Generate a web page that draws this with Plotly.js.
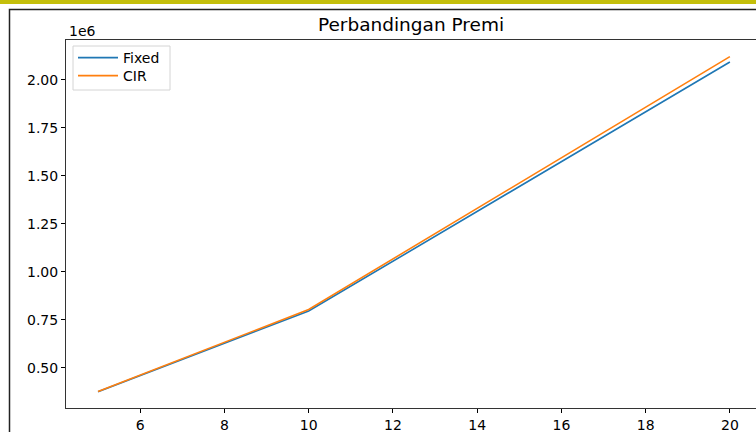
<!DOCTYPE html>
<html>
<head>
<meta charset="utf-8">
<script src="https://cdn.plot.ly/plotly-3.0.1.min.js"></script>
<style>
  html, body { margin: 0; padding: 0; background: #fff; }
  #chart { width: 756px; height: 432px; }
</style>
</head>
<body>
<div id="chart"></div>
<script>
// Policy term in years
const tenor = [5, 10, 20];
// Premium under a fixed interest rate vs. the CIR rate model
const premiFixed = [375000, 795000, 2092000];
const premiCIR = [376000, 803000, 2120000];

// Axis ticks (y shown in units of 1e6)
const xTicks = [6, 8, 10, 12, 14, 16, 18, 20];
const yTickVals = [500000, 750000, 1000000, 1250000, 1500000, 1750000, 2000000];
const yTickText = ['0.50', '0.75', '1.00', '1.25', '1.50', '1.75', '2.00'];

const font = { family: 'DejaVu Sans, sans-serif', size: 14, color: '#000' };

// pixel helpers for paper coordinates (plot area: x 66..756, y 40..408)
const px = v => (v - 66) / 690;
const py = v => (408 - v) / 368;

const traces = [
  { x: tenor, y: premiFixed, name: 'Fixed', type: 'scatter', mode: 'lines',
    legend: 'legend', line: { color: '#1f77b4', width: 1.6 } },
  { x: tenor, y: premiCIR, name: 'CIR', type: 'scatter', mode: 'lines',
    legend: 'legend2', line: { color: '#ff7f0e', width: 1.6 } }
];

// one legend per entry so each row sits at its own height
const legendStyle = top => ({
  x: px(73), y: py(top), xanchor: 'left', yanchor: 'top',
  bgcolor: 'rgba(0,0,0,0)', borderwidth: 0,
  itemwidth: 40, font: font
});

const layout = {
  width: 756, height: 432,
  margin: { l: 66, r: 0, t: 40, b: 24 },
  paper_bgcolor: '#fff', plot_bgcolor: '#fff',
  font: font,
  showlegend: true,
  title: {
    text: 'Perbandingan Premi',
    font: { family: 'DejaVu Sans, sans-serif', size: 18.5, color: '#000' },
    xref: 'paper', x: 0.5, xanchor: 'center',
    yref: 'container', y: 1 - 25 / 432, yanchor: 'middle'
  },
  xaxis: {
    range: [4.24, 20.62],
    tickvals: xTicks,
    ticks: 'outside', ticklen: 4, tickwidth: 1, tickcolor: '#000',
    showgrid: false, zeroline: false,
    showline: true, linecolor: '#333', linewidth: 1, mirror: true,
    tickfont: font
  },
  yaxis: {
    range: [290100, 2206800],
    tickvals: yTickVals, ticktext: yTickText,
    ticks: 'outside', ticklen: 4, tickwidth: 1, tickcolor: '#000',
    showgrid: false, zeroline: false,
    showline: true, linecolor: '#333', linewidth: 1, mirror: true,
    tickfont: font
  },
  legend: legendStyle(42),
  legend2: legendStyle(60),
  annotations: [
    { text: '1e6', xref: 'paper', yref: 'paper', x: 0.002, y: 1.0, yshift: -1,
      xanchor: 'left', yanchor: 'bottom', showarrow: false, font: font }
  ],
  shapes: [
    // legend frame
    { type: 'rect', xref: 'paper', yref: 'paper',
      x0: px(73), x1: px(170), y0: py(90), y1: py(46),
      fillcolor: 'rgba(255,255,255,0.85)', line: { color: '#d4d4d4', width: 1 }, layer: 'above' },
    // coloured strip along the top edge
    { type: 'rect', xref: 'paper', yref: 'paper',
      x0: -0.2, x1: 1.2, y0: py(4), y1: 1.2,
      fillcolor: '#c4bf0b', line: { width: 0 }, layer: 'above' },
    // outer figure frame
    { type: 'rect', xref: 'paper', yref: 'paper',
      x0: px(9.5), x1: 1.2, y0: -0.2, y1: py(9.5),
      fillcolor: 'rgba(0,0,0,0)', line: { color: '#222', width: 1.5 }, layer: 'above' }
  ]
};

Plotly.newPlot('chart', traces, layout, { displayModeBar: false, staticPlot: true });
</script>
</body>
</html>
